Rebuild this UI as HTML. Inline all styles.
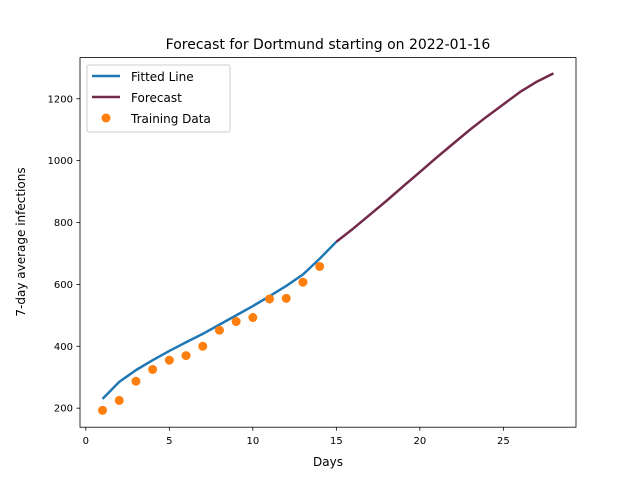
<!DOCTYPE html>
<html><head><meta charset="utf-8"><style>
body{margin:0;background:#fff;}
svg text{font-family:"DejaVu Sans","Liberation Sans",sans-serif;}
</style></head><body>
<svg id="chart" width="640" height="480" xmlns="http://www.w3.org/2000/svg">
<rect width="640" height="480" fill="#fff"/>
<text x="328" y="49" font-size="14" text-anchor="middle">Forecast for Dortmund starting on 2022-01-16</text>
<g id="plot"></g>
<rect x="80" y="57.6" width="496" height="369.6" fill="none" stroke="#000" stroke-width="0.8"/>
<text x="328" y="466" font-size="12" text-anchor="middle">Days</text>
<text transform="translate(25,242) rotate(-90)" font-size="12" text-anchor="middle">7-day average infections</text>
<g>
<rect x="87" y="65" width="143" height="67" fill="#fff" fill-opacity="0.8" stroke="#ccc" rx="2"/>
<line x1="92" y1="76" x2="120" y2="76" stroke="#1f77b4" stroke-width="2.5"/>
<text x="131" y="81" font-size="12">Fitted Line</text>
<line x1="92" y1="97" x2="120" y2="97" stroke="#722a4a" stroke-width="2.5"/>
<text x="131" y="102" font-size="12">Forecast</text>
<circle cx="106" cy="118" r="4.5" fill="#ff7f0e"/>
<text x="131" y="123" font-size="12">Training Data</text>
</g>
</svg>
<script>
const trainDays=[1,2,3,4,5,6,7,8,9,10,11,12,13,14];
const trainValues=[193,225,287,325,355,370,400,452,480,493,553,555,607,658];
const fitDays=[1,2,3,4,5,6,7,8,9,10,11,12,13,14,15];
const fitValues=[230,285,323,355,385,413,440,470,500,530,562,595,632,683,738];
const fcDays=[15,16,17,18,19,20,21,22,23,24,25,26,27,28];
const fcValues=[738,780,825,870,917,963,1010,1055,1100,1142,1182,1222,1255,1282];
const xTicks=[0,5,10,15,20,25];
const yTicks=[200,400,600,800,1000,1200];
const X0=80,X1=576,Y0=427.2,Y1=57.6,xmin=-0.35,xmax=29.35,ymin=138.5,ymax=1333;
const sx=v=>X0+(v-xmin)/(xmax-xmin)*(X1-X0);
const sy=v=>Y0-(v-ymin)/(ymax-ymin)*(Y0-Y1);
const NS="http://www.w3.org/2000/svg",g=document.getElementById('plot');
function mk(t,a){const e=document.createElementNS(NS,t);for(const k in a)e.setAttribute(k,a[k]);g.appendChild(e);return e;}
xTicks.forEach(v=>{
 const l=mk('line',{x1:sx(v),x2:sx(v),y1:Y0,y2:Y0+3.5,stroke:'#000','stroke-width':0.8});
 
 
 const t=mk('text',{x:sx(v),y:Y0+17,'font-size':10,'text-anchor':'middle'});t.textContent=v;
 
 
});
yTicks.forEach(v=>{
 const l=mk('line',{x1:X0-3.5,x2:X0,y1:sy(v),y2:sy(v),stroke:'#000','stroke-width':0.8});
 
 
 const t=mk('text',{x:X0-7,y:sy(v)+3.5,'font-size':10,'text-anchor':'end'});t.textContent=v;
 
 
});
const fit=mk('polyline',{points:fitDays.map((d,i)=>sx(d)+','+sy(fitValues[i])).join(' '),fill:'none',stroke:'#1f77b4','stroke-width':2.5,'stroke-linejoin':'round'});


const fc=mk('polyline',{points:fcDays.map((d,i)=>sx(d)+','+sy(fcValues[i])).join(' '),fill:'none',stroke:'#722a4a','stroke-width':2.5,'stroke-linejoin':'round'});


trainDays.forEach((d,i)=>{
 const c=mk('circle',{cx:sx(d),cy:sy(trainValues[i]),r:4.5,fill:'#ff7f0e'});
 
 
});
</script>
</body></html>
